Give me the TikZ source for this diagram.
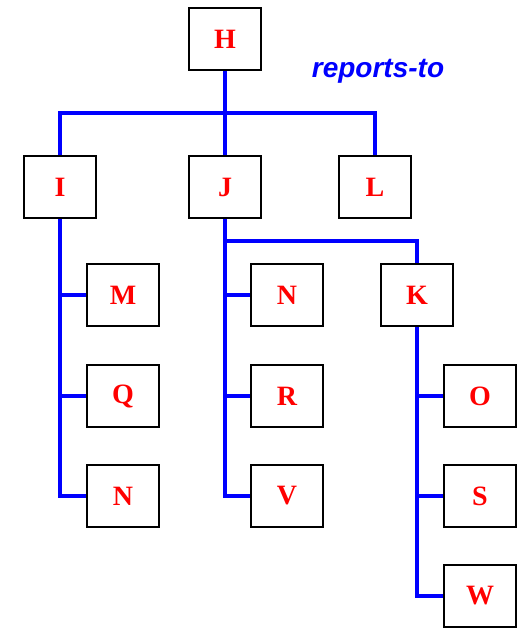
\documentclass[tikz,border=0pt]{standalone}
\usepackage{fontspec}
\setmainfont{Liberation Serif}
\newfontfamily\lblfont{Liberation Sans}
\begin{document}
\begin{tikzpicture}[x=1pt,y=-1pt,
  box/.style={draw=black,line width=1.6pt,fill=white,minimum width=72pt,minimum height=62pt,inner sep=0pt,
    text=red,font=\fontsize{28}{30}\selectfont\bfseries},
  trunk/.style={draw=blue,line width=3.8pt},
  branch/.style={draw=blue,line width=3.2pt}]
\useasboundingbox (0,0) rectangle (524,628);
\node[box] (H) at (225,39) {H};
\node[box] (I) at (60,187) {I};
\node[box] (J) at (225,187) {J};
\node[box] (L) at (375,187) {L};
\node[box] (M) at (123,295) {M};
\node[box] (Q) at (123,396) {Q};
\node[box] (N1) at (123,496) {N};
\node[box] (N2) at (287,295) {N};
\node[box] (R) at (287,396) {R};
\node[box] (V) at (287,496) {V};
\node[box] (K) at (417,295) {K};
\node[box] (O) at (480,396) {O};
\node[box] (S) at (480,496) {S};
\node[box] (W) at (480,596) {W};
\node[text=blue,font=\lblfont\fontsize{28}{30}\selectfont\bfseries\itshape] (lbl) at (378,71) {reports-to};
\coordinate (bus) at (225,113);
\coordinate (jk) at (225,241);
% top level
\draw[trunk] (H.south) -- (J.north);
\draw[trunk] (I.north) |- (bus) -| (L.north);
% I subtree
\draw[trunk] (I.south) |- (N1.west);
\draw[branch] (I.south |- M.west) -- (M.west);
\draw[branch] (I.south |- Q.west) -- (Q.west);
% J subtree
\draw[trunk] (J.south) |- (V.west);
\draw[branch] (jk) -| (K.north);
\draw[branch] (J.south |- N2.west) -- (N2.west);
\draw[branch] (J.south |- R.west) -- (R.west);
% K subtree
\draw[trunk] (K.south) |- (W.west);
\draw[branch] (K.south |- O.west) -- (O.west);
\draw[branch] (K.south |- S.west) -- (S.west);
\end{tikzpicture}
\end{document}
